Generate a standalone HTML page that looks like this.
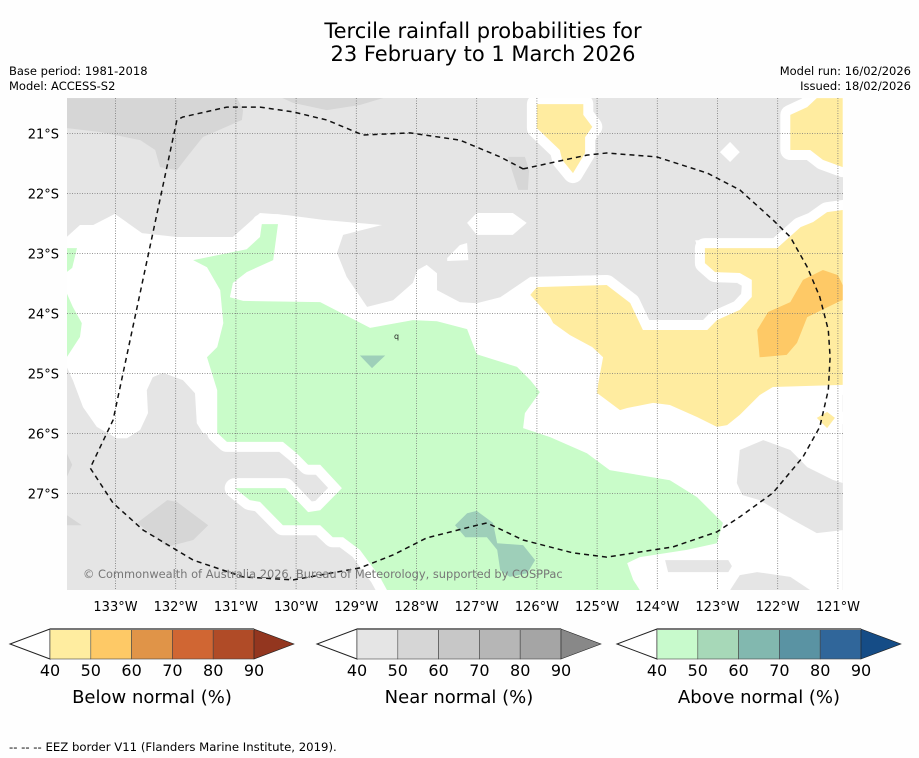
<!DOCTYPE html>
<html><head><meta charset="utf-8"><style>
html,body{margin:0;padding:0;background:#fff;}
svg{display:block;font-family:"DejaVu Sans","Liberation Sans",sans-serif;}
</style></head><body>
<svg id="chart" width="919" height="758" viewBox="0 0 919 758" xmlns="http://www.w3.org/2000/svg">
<rect width="919" height="758" fill="#fefefe"/>
<text x="483" y="38" font-size="21" text-anchor="middle">Tercile rainfall probabilities for</text>
<text x="483" y="61" font-size="21" text-anchor="middle">23 February to 1 March 2026</text>
<text x="9" y="75" font-size="11.5">Base period: 1981-2018</text>
<text x="9" y="90" font-size="11.5">Model: ACCESS-S2</text>
<text x="911" y="75" font-size="11.5" text-anchor="end">Model run: 16/02/2026</text>
<text x="911" y="90" font-size="11.5" text-anchor="end">Issued: 18/02/2026</text>
<defs><clipPath id="mapclip"><rect x="67" y="98" width="776" height="492"/></clipPath></defs>
<g id="map" clip-path="url(#mapclip)"></g>
<g id="axes"></g>
<g id="bars"></g>
<text x="9" y="751" font-size="11.7">--  --  -- EEZ border V11 (Flanders Marine Institute, 2019).</text>
</svg>
<script>
// ---- axis data ----
const lonTicks = [133,132,131,130,129,128,127,126,125,124,123,122,121];
const latTicks = [21,22,23,24,25,26,27];
const cbLevels = [40,50,60,70,80,90];
const belowColors = ["#ffeda0","#fec966","#e09448","#d06633","#b04b27"];
const nearColors = ["#e5e5e5","#d6d6d6","#c7c7c7","#b6b6b6","#a5a5a5"];
const aboveColors = ["#c8facc","#a7d8b8","#82b8af","#5a93a3","#30669a"];
const cbTitles = ["Below normal (%)","Near normal (%)","Above normal (%)"];
const cbTips = ["#93361f","#888888","#154c86"];

// ---- map contour data [lon W, lat S] ----
const whiteMain = [[133.81,22.725],[133.59,22.525],[133.37,22.525],[133.01,22.34],[132.56,22.66],[131.98,22.725],[131.05,22.725],[130.60,22.325],[130.15,22.36],[129.55,22.44],[128.99,22.49],[128.57,22.525],[129.22,22.69],[129.32,22.99],[129.16,23.39],[128.82,23.89],[128.39,23.78],[128.06,23.49],[127.99,23.28],[127.83,23.19],[127.66,23.33],[127.66,23.61],[127.28,23.81],[127.00,23.83],[126.61,23.73],[126.11,23.39],[124.84,23.36],[124.40,23.94],[124.24,24.11],[123.17,24.11],[123.01,23.94],[122.63,23.89],[122.59,23.49],[123.01,23.44],[123.29,23.03],[123.37,22.78],[121.79,22.78],[121.62,22.48],[121.26,22.19],[120.92,22.11],[120.92,28.61],[128.44,28.61],[128.89,28.06],[129.22,27.74],[130.22,27.53],[130.60,27.31],[130.98,26.91],[130.18,26.91],[129.80,27.31],[129.60,27.28],[129.24,26.91],[129.60,26.52],[129.80,26.52],[129.99,26.33],[130.22,26.14],[131.15,26.14],[131.55,25.99],[131.65,25.83],[131.68,25.33],[131.88,25.11],[132.21,24.99],[132.38,25.06],[132.48,25.28],[132.46,25.66],[132.59,25.94],[132.81,26.08],[132.98,26.08],[133.31,25.89],[133.54,25.56],[133.71,25.11],[133.81,24.89]];
const whitePatches = [
 [[127.16,22.49],[127.00,22.325],[126.40,22.325],[126.17,22.49],[126.40,22.69],[127.00,22.69]],
 [[127.49,23.075],[127.28,22.86],[127.16,22.825],[127.14,23.11],[127.49,23.125]],
 [[122.96,21.31],[122.79,21.14],[122.63,21.31],[122.79,21.475]]];
const nearDark = [
 [[133.81,20.41],[130.98,20.41],[130.88,20.61],[130.90,20.775],[131.55,21.06],[131.81,21.39],[131.98,21.61],[132.26,21.56],[132.34,21.275],[132.59,21.11],[133.26,20.975],[133.81,20.91]],
 [[130.27,20.39],[130.05,20.49],[129.49,20.61],[128.94,20.525],[128.49,20.39]],
 [[126.48,21.39],[126.20,21.39],[126.13,21.61],[126.15,21.94],[126.31,21.94],[126.40,21.66]],
 [[132.64,27.49],[132.14,27.11],[131.98,27.14],[131.46,27.53],[131.71,27.775],[132.14,27.89]],
 [[133.81,26.33],[133.72,26.52],[133.81,26.73]],
 [[133.81,27.36],[133.56,27.53],[133.81,27.53]]];
const above40 = [
 [[131.71,23.11],[130.82,22.93],[130.60,22.725],[130.57,22.51],[130.30,22.51],[130.38,23.11],[130.82,23.31],[131.05,23.49],[131.10,23.73],[130.88,23.79],[129.60,23.81],[128.77,24.24],[128.06,24.11],[127.66,24.13],[127.16,24.26],[127.00,24.68],[126.33,24.89],[126.11,25.11],[125.95,25.31],[126.20,25.66],[126.23,25.91],[125.78,26.06],[125.17,26.33],[124.79,26.61],[123.79,26.78],[123.34,27.06],[122.91,27.49],[123.01,27.83],[123.51,27.94],[124.29,28.06],[124.50,28.16],[124.40,28.44],[124.29,28.61],[128.49,28.61],[128.61,28.39],[128.94,27.94],[129.22,27.73],[129.39,27.73],[129.60,27.53],[130.22,27.53],[130.60,27.14],[130.77,27.11],[131.02,26.91],[130.18,26.91],[129.80,27.31],[129.60,27.28],[129.24,26.91],[129.60,26.52],[129.80,26.52],[129.99,26.33],[130.22,26.14],[131.15,26.14],[131.31,25.99],[131.31,25.28],[131.48,24.73],[131.31,24.56],[131.21,24.16],[131.26,23.61],[131.48,23.23]],
 [[133.81,22.91],[133.64,22.91],[133.72,23.24],[133.81,23.31]],
 [[133.81,23.66],[133.71,23.89],[133.56,24.16],[133.59,24.39],[133.81,24.73]]];
const above50 = [
 [[128.94,24.70],[128.52,24.70],[128.74,24.91]],
 [[127.36,27.53],[127.16,27.33],[127.00,27.29],[126.73,27.49],[126.66,27.83],[126.23,27.86],[126.03,28.11],[126.16,28.33],[126.45,28.39],[126.61,28.28],[126.66,27.94],[126.83,27.73],[127.19,27.73]]];
const below40 = [
 [[126.00,20.51],[125.23,20.51],[125.23,20.69],[125.08,20.89],[125.20,21.06],[125.20,21.325],[125.40,21.66],[125.58,21.44],[125.62,21.275],[126.00,20.91]],
 [[121.79,20.69],[121.51,20.56],[121.35,20.41],[120.92,20.41],[120.92,21.56],[121.25,21.44],[121.46,21.275],[121.79,21.275]],
 [[123.21,22.91],[122.01,22.91],[121.62,22.56],[121.41,22.475],[121.18,22.31],[120.92,22.275],[120.92,25.19],[122.08,25.225],[122.30,25.36],[122.63,25.69],[122.84,25.86],[123.01,25.89],[123.34,25.725],[123.79,25.525],[124.07,25.49],[124.50,25.575],[124.62,25.61],[125.00,25.325],[124.98,25.16],[124.90,24.73],[125.08,24.56],[125.45,24.36],[125.73,24.16],[125.78,24.06],[126.11,23.69],[126.00,23.56],[124.84,23.525],[124.45,23.825],[124.24,24.275],[123.17,24.275],[123.01,24.11],[122.63,23.94],[122.43,23.725],[122.43,23.44],[122.63,23.325],[123.04,23.31],[123.21,23.16]],
 [[121.35,25.74],[121.18,25.64],[121.05,25.74],[121.18,25.91]]];
const below50 = [
 [[122.34,24.275],[122.16,23.975],[121.79,23.81],[121.58,23.44],[121.25,23.275],[121.00,23.36],[120.92,23.525],[120.92,23.775],[121.00,23.81],[121.51,24.06],[121.68,24.49],[121.85,24.69],[122.30,24.73]]];
const nearIslands = [
 [[122.68,26.825],[122.63,26.275],[122.24,26.11],[121.79,26.275],[121.51,26.56],[121.08,26.775],[120.92,26.825],[120.92,27.61],[121.35,27.66],[121.75,27.44],[122.30,27.11],[122.59,27.025]],
 [[122.79,28.61],[122.63,28.36],[122.34,28.31],[121.79,28.39],[121.46,28.61]],
 [[123.87,28.11],[122.82,28.11],[122.76,28.21],[122.82,28.31],[123.82,28.31]]];
const eezLine = [[126.23,21.59],[125.17,21.36],[124.84,21.325],[124.01,21.39],[123.17,21.66],[122.63,21.94],[122.08,22.44],[121.79,22.725],[121.51,23.225],[121.30,23.725],[121.16,24.275],[121.13,24.725],[121.16,25.275],[121.30,25.89],[121.58,26.39],[122.08,26.99],[122.63,27.39],[123.01,27.64],[123.74,27.89],[124.84,28.06],[125.40,27.99],[126.23,27.775],[126.83,27.49],[127.00,27.53],[127.83,27.74],[128.39,28.025],[128.94,28.24],[130.05,28.44],[130.88,28.39],[131.71,28.11],[132.54,27.61],[133.04,27.16],[133.42,26.575],[133.04,25.775],[131.98,20.775],[131.88,20.725],[131.15,20.56],[130.60,20.56],[130.05,20.64],[129.49,20.775],[128.89,21.025],[128.11,20.99],[127.28,21.11],[126.61,21.39],[126.23,21.59]];

// ---- scales ----
const X = lon => 115.5 + (133 - lon) * 60.2;
const Y = lat => 133.5 + (lat - 21) * 60;
const NS = "http://www.w3.org/2000/svg";
const map = document.getElementById('map');
const axes = document.getElementById('axes');
const bars = document.getElementById('bars');
function el(tag, attrs, parent){const e=document.createElementNS(NS,tag);for(const k in attrs)e.setAttribute(k,attrs[k]);parent.appendChild(e);return e;}
function pts(poly){return poly.map(p=>X(p[0]).toFixed(1)+","+Y(p[1]).toFixed(1)).join(" ");}

let r = el('rect',{x:67,y:98,width:776,height:492,fill:'#e5e5e5'},map);


let w = el('polygon',{points:pts(whiteMain),fill:'#ffffff'},map);


whitePatches.forEach(p=>{const e=el('polygon',{points:pts(p),fill:'#ffffff'},map);

});
nearDark.forEach(p=>{const e=el('polygon',{points:pts(p),fill:'#d6d6d6'},map);

});
above40.forEach(p=>{const e=el('polygon',{points:pts(p),fill:'#c9fcc9',stroke:'#ffffff','stroke-width':20,'stroke-linejoin':'round','paint-order':'stroke'},map);

});
above50.forEach(p=>{const e=el('polygon',{points:pts(p),fill:'#9ecfb9'},map);

});
below40.forEach(p=>{const e=el('polygon',{points:pts(p),fill:'#ffeca0',stroke:'#ffffff','stroke-width':20,'stroke-linejoin':'round','paint-order':'stroke'},map);

});
below50.forEach(p=>{const e=el('polygon',{points:pts(p),fill:'#fec966'},map);

});
nearIslands.forEach(p=>{const e=el('polygon',{points:pts(p),fill:'#e5e5e5'},map);

});

// gridlines
lonTicks.forEach(l=>{const e=el('line',{x1:X(l),x2:X(l),y1:98,y2:590,stroke:'#777','stroke-width':0.8,'stroke-dasharray':'1,1.5'},map);

});
latTicks.forEach(l=>{const e=el('line',{x1:67,x2:843,y1:Y(l),y2:Y(l),stroke:'#777','stroke-width':0.8,'stroke-dasharray':'1,1.5'},map);

});
// EEZ border
let eez = el('polyline',{points:pts(eezLine),fill:'none',stroke:'#111','stroke-width':1.5,'stroke-dasharray':'5,4'},map);


let q = el('text',{x:394,y:339,'font-size':8,fill:'#222'},map); q.textContent='q';


let cp = el('text',{x:83,y:578,'font-size':11.4,fill:'#777'},map);
cp.textContent='© Commonwealth of Australia 2026, Bureau of Meteorology, supported by COSPPac';



// axis labels
lonTicks.forEach(l=>{const e=el('text',{x:X(l),y:611,'font-size':13,'text-anchor':'middle'},axes);e.textContent=l+'°W';

});
latTicks.forEach(l=>{const e=el('text',{x:59,y:Y(l)+5,'font-size':13,'text-anchor':'end'},axes);e.textContent=l+'°S';

});

// colorbars
const cbStarts=[50,357,657], cbW=204, cbY=629, cbH=30, tipW=40;
[belowColors,nearColors,aboveColors].forEach((cols,i)=>{
  const x0=cbStarts[i], n=cbLevels.length-1;
  const CX = v => x0 + (v - cbLevels[0]) / (cbLevels[n]-cbLevels[0]) * cbW;
  const lt=el('polygon',{points:`${x0},${cbY} ${x0-tipW},${cbY+cbH/2} ${x0},${cbY+cbH}`,fill:'#fff',stroke:'#222','stroke-width':1},bars);
  
  
  for(let k=0;k<n;k++){
    const b=el('rect',{x:CX(cbLevels[k]),y:cbY,width:CX(cbLevels[k+1])-CX(cbLevels[k]),height:cbH,fill:cols[k],stroke:'#444','stroke-width':0.6},bars);
    
    
  }
  const xe=CX(cbLevels[n]);
  const rt=el('polygon',{points:`${xe},${cbY} ${xe+tipW},${cbY+cbH/2} ${xe},${cbY+cbH}`,fill:cbTips[i],stroke:'#222','stroke-width':0.6},bars);
  
  
  const tl=el('line',{x1:x0,x2:xe,y1:cbY,y2:cbY,stroke:'#777','stroke-width':2},bars);
  
  
  cbLevels.forEach(v=>{const t=el('text',{x:CX(v),y:676,'font-size':16,'text-anchor':'middle'},bars);t.textContent=v;
    
    });
  const tt=el('text',{x:x0+cbW/2,y:703,'font-size':18,'text-anchor':'middle'},bars);tt.textContent=cbTitles[i];
  
  
});
</script>
</body></html>
